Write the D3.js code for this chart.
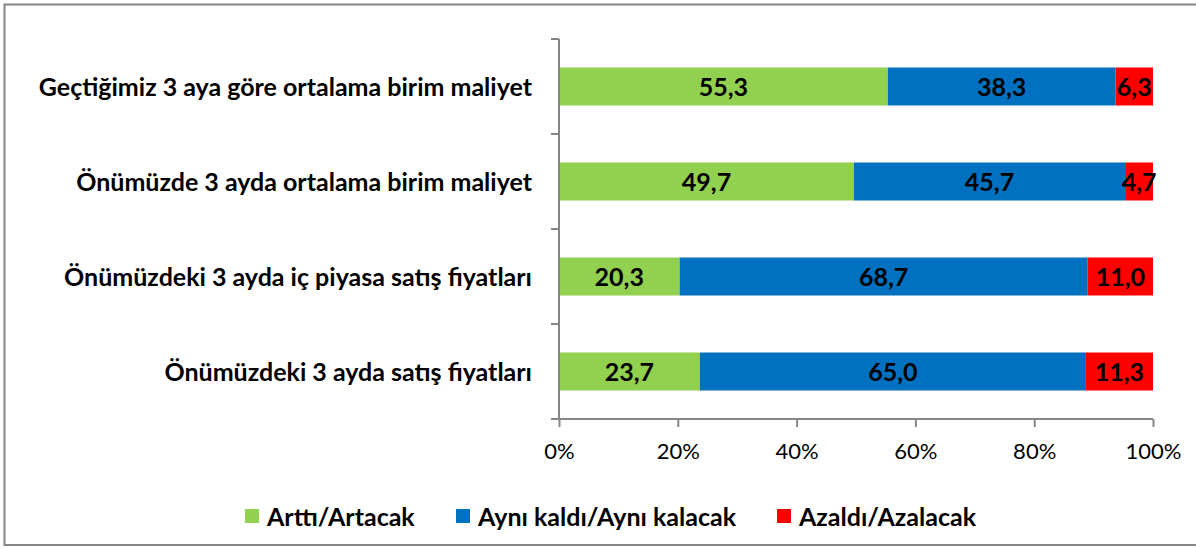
<!DOCTYPE html>
<html>
<head>
<meta charset="utf-8">
<script src="https://cdn.jsdelivr.net/npm/d3@7"></script>
<style>
  body { margin: 0; background: #fff; }
  text { font-family: Lato, "Open Sans", sans-serif; }
</style>
</head>
<body>
<svg width="1196" height="548"></svg>
<script>
// categories and series (%)
let categories = ["Geçtiğimiz 3 aya göre ortalama birim maliyet",
                  "Önümüzde 3 ayda ortalama birim maliyet",
                  "Önümüzdeki 3 ayda iç piyasa satış fiyatları",
                  "Önümüzdeki 3 ayda satış fiyatları"];
let seriesNames = ["Arttı/Artacak", "Aynı kaldı/Aynı kalacak", "Azaldı/Azalacak"];
let arttı = [55.3, 49.7, 20.3, 23.7];
let ayni  = [38.3, 45.7, 68.7, 65.0];
let azaldi = [6.3, 4.7, 11.0, 11.3];
let xTicks = [0, 0.2, 0.4, 0.6, 0.8, 1];

let svg = d3.select("svg"),
    margin = {top: 39, right: 43, bottom: 129, left: 559},
    width = 1196 - margin.left - margin.right,
    height = 548 - margin.top - margin.bottom,
    color = d3.scaleOrdinal().domain(seriesNames).range(["#92D050", "#0070C0", "#FF0000"]);

// outer frame
svg.append("rect")
  .attr("x", 4.5).attr("y", 4.5)
  .attr("width", 1196).attr("height", 540.5)
  .attr("fill", "none").attr("stroke", "#868686").attr("stroke-width", 2);

let rows = categories.map(function(c, i) {
  return {cat: c, "Arttı/Artacak": arttı[i], "Aynı kaldı/Aynı kalacak": ayni[i], "Azaldı/Azalacak": azaldi[i]};
});
let stacked = d3.stack().keys(seriesNames).offset(d3.stackOffsetExpand)(rows);

let x = d3.scaleLinear().domain([0, 1]).range([0, width]),
    y = d3.scaleBand().domain(categories).range([0, height]).paddingInner(0.6).paddingOuter(0.3);

let g = svg.append("g")
  .attr("transform", "translate(" + margin.left + "," + margin.top + ")");

// bars
let layer = g.selectAll(".layer")
  .data(stacked)
  .enter().append("g")
    .attr("class", "layer")
    .attr("fill", function(d) { return color(d.key); });

layer.selectAll("rect")
  .data(function(d) { return d; })
  .enter().append("rect")
    .attr("x", function(d) { return x(d[0]); })
    .attr("y", function(d) { return y(d.data.cat); })
    .attr("width", function(d) { return x(d[1]) - x(d[0]); })
    .attr("height", y.bandwidth());

// value labels
layer.selectAll("text")
  .data(function(d) { return d.map(function(p) { return {p: p, key: d.key}; }); })
  .enter().append("text")
    .attr("x", function(d) { return (x(d.p[0]) + x(d.p[1])) / 2; })
    .attr("y", function(d) { return y(d.p.data.cat) + y.bandwidth() / 2; })
    .attr("dy", "0.36em")
    .attr("text-anchor", "middle")
    .attr("fill", "#000")
    .style("font-weight", "bold")
    .style("font-size", "25px")
    .text(function(d) { return d.p.data[d.key].toFixed(1).replace(".", ","); });

// y axis with ticks between categories
let yAxis = g.append("g").attr("class", "axis axis-y");
yAxis.append("line")
  .attr("x1", 0).attr("x2", 0).attr("y1", 0).attr("y2", height)
  .attr("stroke", "#868686").attr("stroke-width", 2);
yAxis.selectAll(".tick")
  .data(d3.range(categories.length + 1))
  .enter().append("line")
    .attr("x1", -8).attr("x2", 0)
    .attr("y1", function(i) { return i * y.step(); })
    .attr("y2", function(i) { return i * y.step(); })
    .attr("stroke", "#868686").attr("stroke-width", 2);
yAxis.selectAll(".lbl")
  .data(categories)
  .enter().append("text")
    .attr("x", -27)
    .attr("y", function(d) { return y(d) + y.bandwidth() / 2; })
    .attr("dy", "0.36em")
    .attr("text-anchor", "end")
    .style("font-weight", "bold")
    .style("font-size", "25px")
    .text(function(d) { return d; });

// x axis
let xAxis = g.append("g")
  .attr("class", "axis axis-x")
  .attr("transform", "translate(0," + height + ")")
  .call(d3.axisBottom(x).tickValues(xTicks).tickFormat(d3.format(".0%")).tickSizeInner(8).tickSizeOuter(0).tickPadding(16));
xAxis.select(".domain").attr("stroke", "#868686").attr("stroke-width", 2).attr("d", "M-8,0H" + width);
xAxis.selectAll(".tick line").attr("stroke", "#868686").attr("stroke-width", 2);
xAxis.selectAll(".tick text").attr("fill", "#000").style("font-size", "22px").style("font-family", "Lato, sans-serif");

// legend
let legendX = [245, 456, 777];
let legend = svg.append("g").attr("class", "legend");
let item = legend.selectAll("g")
  .data(seriesNames)
  .enter().append("g")
    .attr("transform", function(d, i) { return "translate(" + legendX[i] + ",509)"; });
item.append("rect")
  .attr("width", 14).attr("height", 14)
  .attr("fill", function(d) { return color(d); });
item.append("text")
  .attr("x", 22).attr("y", 8).attr("dy", "0.36em")
  .style("font-weight", "bold")
  .style("font-size", "25px")
  .text(function(d) { return d; });
</script>
</body>
</html>
